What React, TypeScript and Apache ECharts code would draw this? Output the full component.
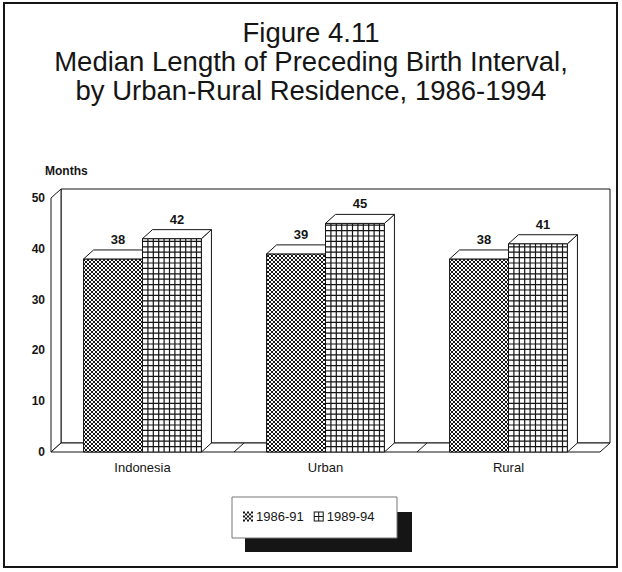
import React, { useEffect, useRef } from 'react';
import * as echarts from 'echarts';

// ---- data ----
const categories = ['Indonesia', 'Urban', 'Rural'];
const seriesNames = ['1986-91', '1989-94'];
const values1986 = [38, 39, 38];
const values1989 = [42, 45, 41];
const yTicks = [0, 10, 20, 30, 40, 50];
const titleLines = [
  'Figure 4.11',
  'Median Length of Preceding Birth Interval,',
  'by Urban-Rural Residence, 1986-1994',
];
const yAxisName = 'Months';

// ---- style ----
const DX = 10;
const DY = 9;
const INK = '#151515';
const FONT = '"Liberation Sans", Arial, Helvetica, sans-serif';
const BAR_RATIO = 0.322;

let registered = false;
function registerHatch() {
  if (registered) return;
  registered = true;
  const Hatch = (echarts.graphic as any).extendShape({
    type: 'hatch',
    shape: { x: 0, y: 0, w: 0, h: 0, step: 4, kind: 0 },
    buildPath(ctx: any, s: any) {
      const x0 = s.x, y0 = s.y, x1 = s.x + s.w, y1 = s.y + s.h;
      const st = s.step;
      if (s.kind === 0) {
        let cMin = Math.ceil((y0 - x1) / st) * st;
        for (let c = cMin; c <= y1 - x0; c += st) {
          const lo = Math.max(x0, y0 - c);
          const hi = Math.min(x1, y1 - c);
          if (hi > lo) { ctx.moveTo(lo, lo + c); ctx.lineTo(hi, hi + c); }
        }
        cMin = Math.ceil((y0 + x0) / st) * st;
        for (let c = cMin; c <= y1 + x1; c += st) {
          const lo = Math.max(x0, c - y1);
          const hi = Math.min(x1, c - y0);
          if (hi > lo) { ctx.moveTo(lo, c - lo); ctx.lineTo(hi, c - hi); }
        }
      } else {
        for (let x = x0 + st; x < x1 - 1; x += st) { ctx.moveTo(x, y0); ctx.lineTo(x, y1); }
        for (let y = y1 - st; y > y0 + 1; y -= st) { ctx.moveTo(x0, y); ctx.lineTo(x1, y); }
      }
    },
  });
  (echarts.graphic as any).registerShape('hatch', Hatch);
}

function makeRenderItem(kind: number) {
  return (params: any, api: any) => {
    const ci = api.value(0);
    const v = api.value(1);
    const top = api.coord([ci, v]);
    const base = api.coord([ci, 0]);
    const band = api.size([1, 0])[0];
    const bw = band * BAR_RATIO;
    const cx = top[0];
    const x0 = kind === 0 ? cx - bw : cx;
    const x1 = x0 + bw;
    const yT = top[1];
    const yB = base[1];
    const line = { stroke: INK, lineWidth: 1, fill: 'none' };
    return {
      type: 'group',
      children: [
        { type: 'rect', shape: { x: x0, y: yT, width: bw, height: yB - yT }, style: { fill: '#fff', stroke: 'none' } },
        {
          type: 'hatch',
          shape: { x: x0, y: yT, w: bw, h: yB - yT, step: kind === 0 ? 4 : 5.4, kind },
          style: { stroke: INK, lineWidth: kind === 0 ? 1 : 1.2, fill: 'none' },
        },
        { type: 'rect', shape: { x: x0, y: yT, width: bw, height: yB - yT }, style: { ...line } },
        {
          type: 'polygon',
          shape: { points: [[x1, yT], [x1 + DX, yT - DY], [x1 + DX, yB - DY], [x1, yB]] },
          style: { ...line, fill: '#fff' },
        },
        {
          type: 'polygon',
          shape: { points: [[x0, yT], [x0 + DX, yT - DY], [x1 + DX, yT - DY], [x1, yT]] },
          style: { ...line, fill: '#fff' },
        },
        {
          type: 'text',
          x: (x0 + x1) / 2 + DX / 2,
          y: yT - DY - 4,
          style: {
            text: String(v),
            align: 'center',
            verticalAlign: 'bottom',
            fontSize: 13,
            fontFamily: FONT,
            fontWeight: 'bold',
            fill: INK,
          },
        },
      ],
    };
  };
}

const checkIcon = (() => {
  let d = '';
  for (let i = 0; i < 5; i++) for (let j = 0; j < 5; j++) if ((i + j) % 2 === 0) d += `M${i * 2} ${j * 2}h2v2h-2Z`;
  return 'path://' + d;
})();
const gridIcon = 'path://M0 0H10V10H0ZM1 1V9H9V1ZM4.5 1h1v8h-1ZM1 4.5h8v1h-8Z';

export default function App() {
  const ref = useRef<HTMLDivElement>(null);
  useEffect(() => {
    if (!ref.current) return;
    registerHatch();
    const chart = echarts.init(ref.current, undefined, { renderer: 'svg' });
    chart.setOption({
      animation: false,
      backgroundColor: '#fff',
      title: {
        text: titleLines.join('\n'),
        left: 'center',
        top: 13,
        textStyle: { fontSize: 27.5, lineHeight: 29, fontWeight: 'normal', color: INK, fontFamily: FONT },
      },
      grid: { left: 51, right: 22, top: 198, bottom: 120 },
      legend: {
        data: [
          { name: seriesNames[0], icon: checkIcon },
          { name: seriesNames[1], icon: gridIcon },
        ],
        left: 243,
        top: 510,
        padding: 0,
        itemWidth: 10,
        itemHeight: 10,
        itemGap: 10,
        z: 10,
        textStyle: { fontSize: 13, color: INK, fontFamily: FONT, padding: [0, 0, 0, -2] },
      },
      xAxis: {
        type: 'category',
        data: categories,
        axisLine: { show: false },
        axisTick: { show: false },
        splitLine: { show: false },
        axisLabel: { margin: 9, fontSize: 13, color: INK, fontFamily: FONT },
      },
      yAxis: {
        type: 'value',
        min: yTicks[0],
        max: yTicks[yTicks.length - 1],
        interval: yTicks[1] - yTicks[0],
        name: yAxisName,
        nameLocation: 'end',
        nameGap: 27,
        nameTextStyle: { align: 'left', verticalAlign: 'middle', padding: [0, 0, 0, -6], fontSize: 12, color: INK, fontFamily: FONT, fontWeight: 'bold' },
        axisLine: { show: false },
        axisTick: { show: false },
        splitLine: { show: false },
        axisLabel: { margin: 6, fontSize: 12, color: INK, fontFamily: FONT, fontWeight: 'bold' },
      },
      series: [
        {
          type: 'custom',
          name: seriesNames[0],
          z: 2,
          clip: false,
          itemStyle: { color: INK },
          renderItem: makeRenderItem(0),
          data: values1986.map((v, i) => [i, v]),
        },
        {
          type: 'custom',
          name: seriesNames[1],
          z: 3,
          clip: false,
          itemStyle: { color: INK },
          renderItem: makeRenderItem(1),
          data: values1989.map((v, i) => [i, v]),
        },
      ],
    });

    const yB = chart.convertToPixel({ yAxisIndex: 0 }, yTicks[0]) as number;
    const yT = chart.convertToPixel({ yAxisIndex: 0 }, yTicks[yTicks.length - 1]) as number;
    const cs = categories.map((_, i) => chart.convertToPixel({ xAxisIndex: 0 }, i) as number);
    const band = cs[1] - cs[0];
    const L = cs[0] - band / 2;
    const R = cs[cs.length - 1] + band / 2;
    const wall = { stroke: INK, lineWidth: 1, fill: '#fff' };
    const elements: any[] = [
      { type: 'rect', z: 0, shape: { x: 4, y: 3, width: 613, height: 564 }, style: { fill: 'none', stroke: INK, lineWidth: 2 } },
      { type: 'rect', z: 0, shape: { x: L + DX, y: yT - DY, width: R - L, height: yB - yT }, style: wall },
      { type: 'polygon', z: 0, shape: { points: [[L, yT], [L + DX, yT - DY], [L + DX, yB - DY], [L, yB]] }, style: wall },
      { type: 'polygon', z: 0, shape: { points: [[L, yB], [L + DX, yB - DY], [R + DX, yB - DY], [R, yB]] }, style: wall },
    ];
    for (let k = 1; k < categories.length; k++) {
      const x = L + band * k;
      elements.push({ type: 'line', z: 0, shape: { x1: x, y1: yB, x2: x + DX, y2: yB - DY }, style: { stroke: INK, lineWidth: 1 } });
    }
    elements.push(
      { type: 'rect', z: 0, shape: { x: 245, y: 512, width: 167, height: 40 }, style: { fill: INK } },
      { type: 'rect', z: 1, shape: { x: 232, y: 497, width: 165, height: 41 }, style: { fill: '#fff', stroke: '#777', lineWidth: 1 } },
    );
    chart.setOption({ graphic: { elements } });

    return () => chart.dispose();
  }, []);
  return <div ref={ref} style={{ position: 'fixed', left: 0, top: 0, width: 622, height: 572 }} />;
}
